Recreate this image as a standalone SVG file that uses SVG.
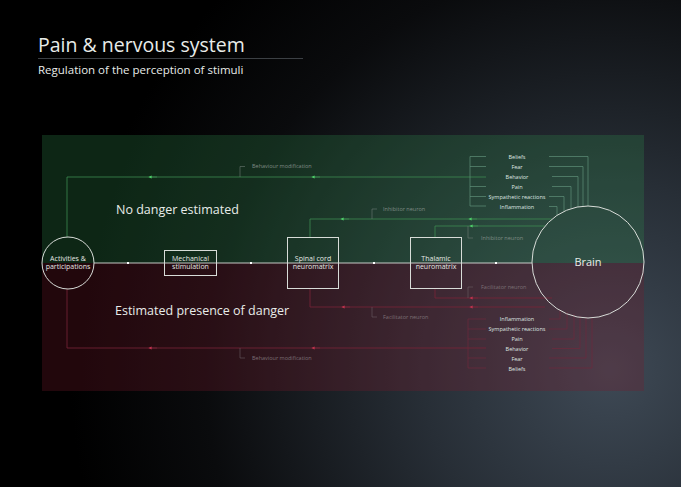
<svg xmlns="http://www.w3.org/2000/svg" width="681" height="487" viewBox="0 0 681 487">
<defs>
<radialGradient id="bg" cx="610" cy="370" r="540" gradientUnits="userSpaceOnUse">
<stop offset="0" stop-color="#3e4955"/>
<stop offset="0.35" stop-color="#272e36"/>
<stop offset="0.75" stop-color="#0a0b0d"/>
<stop offset="1" stop-color="#000"/>
</radialGradient>
<marker id="ag" viewBox="0 0 6 6" refX="3" refY="3" markerWidth="4" markerHeight="4" orient="auto">
<path d="M0,0 L6,3 L0,6 z" fill="#4fd06a"/>
</marker>
<marker id="ar" viewBox="0 0 6 6" refX="3" refY="3" markerWidth="4" markerHeight="4" orient="auto">
<path d="M0,0 L6,3 L0,6 z" fill="#c0344e"/>
</marker>
</defs>
<style>
text{font-family:"Open Sans","Noto Sans","Liberation Sans",sans-serif;fill:#e8ece9}
.node{fill:none;stroke:#d8dcd8;stroke-width:1}
.nt{font-size:7px;text-anchor:middle;fill:#e4e8e4}
.lbl{font-size:5.5px;text-anchor:middle;fill:#dfe5e0}
.small{font-size:5.5px;fill:#7f8b84}
.smallr{font-size:5.5px;fill:#7c6e74}
.g{fill:none;stroke:#3c8a52;stroke-width:0.8}
.gd{fill:none;stroke:#5f8f78;stroke-width:0.7}
.r{fill:none;stroke:#7a2338;stroke-width:0.8}
.rd{fill:none;stroke:#6e2a3c;stroke-width:0.7}
.tick{fill:none;stroke:#6c7a72;stroke-width:0.6}
.tickr{fill:none;stroke:#6a5a62;stroke-width:0.6}
</style>
<rect width="681" height="487" fill="url(#bg)"/>
<rect x="42" y="135" width="602" height="128" fill="#2f8a4c" fill-opacity="0.28"/>
<rect x="42" y="263" width="602" height="128" fill="#7a1a2c" fill-opacity="0.28"/>
<text x="38" y="52" font-size="19.5">Pain &amp; nervous system</text>
<line x1="38" y1="58.5" x2="303" y2="58.5" stroke="#4a4f54" stroke-width="0.8"/>
<text x="38" y="74" font-size="11.5" fill="#d8dcd8">Regulation of the perception of stimuli</text>
<text x="116" y="214" font-size="12.5">No danger estimated</text>
<text x="115" y="315" font-size="12.5">Estimated presence of danger</text>
<g id="connectors">
<line x1="94" y1="263" x2="532" y2="263" stroke="#d8dcd8" stroke-width="0.9"/>
<g fill="#ffffff"><rect x="127" y="262" width="2" height="2"/><rect x="250" y="262" width="2" height="2"/><rect x="373" y="262" width="2" height="2"/><rect x="495" y="262" width="2" height="2"/></g>
<path class="g" d="M486,177 H67 V237"/>
<path class="g" d="M320,177 L313,177" marker-end="url(#ag)"/>
<path class="g" d="M157,177 L150,177" marker-end="url(#ag)"/>
<path class="tick" d="M240,177 V166.5 H245"/>
<text class="small" x="252" y="168">Behaviour modification</text>
<path class="g" d="M552,219 H310 V237"/>
<path class="g" d="M349,219 L342,219" marker-end="url(#ag)"/>
<path class="g" d="M477,219 L470,219" marker-end="url(#ag)"/>
<path class="tick" d="M372,219 V209 H377"/>
<text class="small" x="383" y="211">Inhibitor neuron</text>
<path class="g" d="M545,226 H435 V237"/>
<path class="g" d="M478,226 L471,226" marker-end="url(#ag)"/>
<path class="tick" d="M468,226 V238 H473"/>
<text class="small" x="481" y="240">Inhibitor neuron</text>
<path class="gd" d="M486,156.5 H470 V206 H486 M470,166.5 H486 M470,186.5 H486 M470,196.5 H486"/>
<path class="gd" d="M549,156.5 H588 V206 M549,166.5 H583 V206.2 M552,176.5 H578 V207 M552,186.5 H571 V208.6 M549,196.5 H564 V211.4 M549,206.5 H557 V215.4"/>
<path class="r" d="M486,348 H67 V289"/>
<path class="r" d="M320,348 L313,348" marker-end="url(#ar)"/>
<path class="r" d="M157,348 L150,348" marker-end="url(#ar)"/>
<path class="tickr" d="M240,348 V358 H245"/>
<text class="smallr" x="252" y="360">Behaviour modification</text>
<path class="r" d="M545,307 H310 V288"/>
<path class="r" d="M350,307 L343,307" marker-end="url(#ar)"/>
<path class="r" d="M478,307 L471,307" marker-end="url(#ar)"/>
<path class="tickr" d="M372,307 V317 H377"/>
<text class="smallr" x="383" y="319">Facilitator neuron</text>
<path class="r" d="M552,298 H435 V288"/>
<path class="r" d="M478,298 L471,298" marker-end="url(#ar)"/>
<path class="tickr" d="M468,298 V287 H473"/>
<text class="smallr" x="481" y="289">Facilitator neuron</text>
<path class="rd" d="M486,319 H468 V368 H486 M468,329 H486 M468,339 H486 M468,358 H486"/>
<path class="rd" d="M549,368 H592 V318 M549,358 H586 V317 M552,348.5 H580 V316 M552,339 H574 V314 M549,329 H567 V312 M549,319 H560 V310"/>
</g>
<g id="activities"><circle class="node" cx="68" cy="263" r="26"/><text class="nt" x="68" y="261">Activities &amp;</text><text class="nt" x="68" y="269">participations</text></g>
<g id="mechanical"><rect class="node" x="164.5" y="250.5" width="52" height="25"/><text class="nt" x="190.5" y="261">Mechanical</text><text class="nt" x="190.5" y="269">stimulation</text></g>
<g id="spinal"><rect class="node" x="287.5" y="237.5" width="51" height="51"/><text class="nt" x="313" y="261">Spinal cord</text><text class="nt" x="313" y="269">neuromatrix</text></g>
<g id="thalamic"><rect class="node" x="410.5" y="237.5" width="51" height="51"/><text class="nt" x="436" y="261">Thalamic</text><text class="nt" x="436" y="269">neuromatrix</text></g>
<g id="brain"><circle class="node" cx="588" cy="262" r="56"/><text x="588" y="266" font-size="11" text-anchor="middle">Brain</text></g>
<g id="labels-top">
<text class="lbl" x="517" y="158.5">Beliefs</text>
<text class="lbl" x="517" y="168.5">Fear</text>
<text class="lbl" x="517" y="178.5">Behavior</text>
<text class="lbl" x="517" y="188.5">Pain</text>
<text class="lbl" x="517" y="198.5">Sympathetic reactions</text>
<text class="lbl" x="517" y="208.5">Inflammation</text>
</g>
<g id="labels-bottom">
<text class="lbl" x="517" y="321">Inflammation</text>
<text class="lbl" x="517" y="331">Sympathetic reactions</text>
<text class="lbl" x="517" y="341">Pain</text>
<text class="lbl" x="517" y="351">Behavior</text>
<text class="lbl" x="517" y="360.5">Fear</text>
<text class="lbl" x="517" y="370.5">Beliefs</text>
</g>
</svg>
